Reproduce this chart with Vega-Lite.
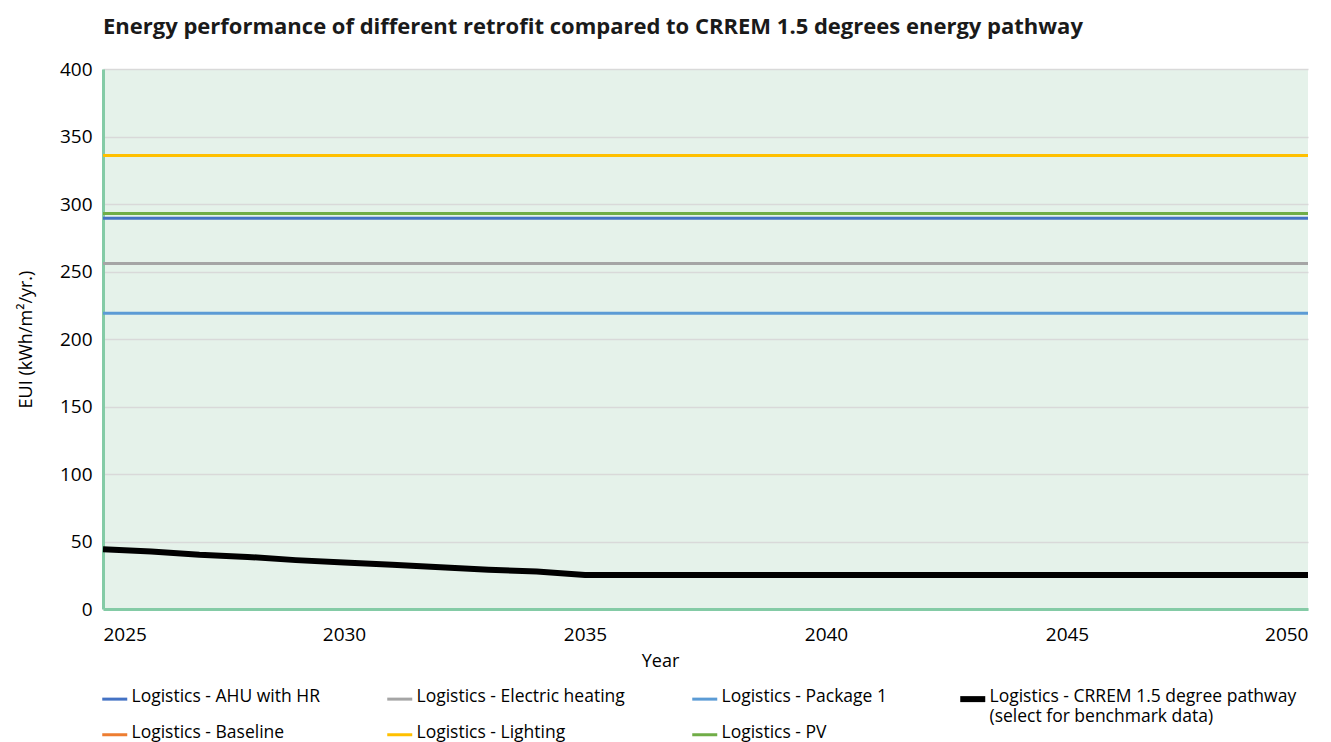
{
  "$schema": "https://vega.github.io/schema/vega-lite/v6.json",
  "width": 1205,
  "height": 540,
  "autosize": {"type": "none"},
  "padding": {"left": 103, "top": 69, "right": 23, "bottom": 133},
  "background": "white",
  "title": {
    "text": "Energy performance of different retrofit compared to CRREM 1.5 degrees energy pathway",
    "anchor": "start",
    "frame": "group",
    "fontSize": 22,
    "font": "Open Sans",
    "fontWeight": "bold",
    "color": "#1a1a1a",
    "offset": 21
  },
  "config": {
    "font": "Open Sans",
    "view": {"fill": "#E5F2EA", "stroke": null}
  },
  "data": {
    "values": [
      {"year": 2025, "series": "Logistics - Lighting", "eui": 336},
      {"year": 2050, "series": "Logistics - Lighting", "eui": 336},
      {"year": 2025, "series": "Logistics - PV", "eui": 293},
      {"year": 2050, "series": "Logistics - PV", "eui": 293},
      {"year": 2025, "series": "Logistics - AHU with HR", "eui": 289.5},
      {"year": 2050, "series": "Logistics - AHU with HR", "eui": 289.5},
      {"year": 2025, "series": "Logistics - Electric heating", "eui": 256},
      {"year": 2050, "series": "Logistics - Electric heating", "eui": 256},
      {"year": 2025, "series": "Logistics - Package 1", "eui": 219},
      {"year": 2050, "series": "Logistics - Package 1", "eui": 219},
      {"year": 2025, "series": "Logistics - CRREM 1.5 degree pathway (select for benchmark data)", "eui": 44.2},
      {"year": 2026, "series": "Logistics - CRREM 1.5 degree pathway (select for benchmark data)", "eui": 42.6},
      {"year": 2027, "series": "Logistics - CRREM 1.5 degree pathway (select for benchmark data)", "eui": 40.2},
      {"year": 2028, "series": "Logistics - CRREM 1.5 degree pathway (select for benchmark data)", "eui": 38.6},
      {"year": 2029, "series": "Logistics - CRREM 1.5 degree pathway (select for benchmark data)", "eui": 36.2},
      {"year": 2030, "series": "Logistics - CRREM 1.5 degree pathway (select for benchmark data)", "eui": 34.4},
      {"year": 2031, "series": "Logistics - CRREM 1.5 degree pathway (select for benchmark data)", "eui": 32.7},
      {"year": 2032, "series": "Logistics - CRREM 1.5 degree pathway (select for benchmark data)", "eui": 30.9},
      {"year": 2033, "series": "Logistics - CRREM 1.5 degree pathway (select for benchmark data)", "eui": 29.1},
      {"year": 2034, "series": "Logistics - CRREM 1.5 degree pathway (select for benchmark data)", "eui": 27.8},
      {"year": 2035, "series": "Logistics - CRREM 1.5 degree pathway (select for benchmark data)", "eui": 25.2},
      {"year": 2036, "series": "Logistics - CRREM 1.5 degree pathway (select for benchmark data)", "eui": 25.2},
      {"year": 2040, "series": "Logistics - CRREM 1.5 degree pathway (select for benchmark data)", "eui": 25.2},
      {"year": 2045, "series": "Logistics - CRREM 1.5 degree pathway (select for benchmark data)", "eui": 25.2},
      {"year": 2050, "series": "Logistics - CRREM 1.5 degree pathway (select for benchmark data)", "eui": 25.2}
    ]
  },
  "mark": {"type": "line", "strokeCap": "butt"},
  "encoding": {
    "x": {
      "field": "year",
      "type": "quantitative",
      "title": "Year",
      "scale": {"domain": [2025, 2050], "nice": false, "zero": false},
      "axis": {
        "values": [2025, 2030, 2035, 2040, 2045, 2050],
        "format": "d",
        "grid": false,
        "ticks": false,
        "domainColor": "#84CBA6",
        "domainWidth": 3,
        "labelFontSize": 19,
        "labelColor": "#000000",
        "labelPadding": 16,
        "labelFont": "Open Sans",
        "titleFont": "Open Sans",
        "titleFontSize": 18,
        "titleFontWeight": "normal",
        "titleColor": "#000000",
        "titlePadding": 8,
        "titleX": 557
      }
    },
    "y": {
      "field": "eui",
      "type": "quantitative",
      "title": "EUI (kWh/m²/yr.)",
      "scale": {"domain": [0, 400], "nice": false},
      "axis": {
        "values": [0, 50, 100, 150, 200, 250, 300, 350, 400],
        "grid": true,
        "gridColor": "#D9D9D9",
        "gridWidth": 1.5,
        "ticks": false,
        "domainColor": "#84CBA6",
        "domainWidth": 3,
        "labelFontSize": 19,
        "labelColor": "#000000",
        "labelPadding": 11,
        "labelFont": "Open Sans",
        "titleFont": "Open Sans",
        "titleFontSize": 18,
        "titleFontWeight": "normal",
        "titleColor": "#000000",
        "titlePadding": 24
      }
    },
    "color": {
      "field": "series",
      "type": "nominal",
      "scale": {
        "domain": [
          "Logistics - AHU with HR",
          "Logistics - Electric heating",
          "Logistics - Package 1",
          "Logistics - CRREM 1.5 degree pathway (select for benchmark data)",
          "Logistics - Baseline",
          "Logistics - Lighting",
          "Logistics - PV"
        ],
        "range": ["#4472C4", "#A5A5A5", "#5B9BD5", "#000000", "#ED7D31", "#FFC000", "#70AD47"]
      },
      "legend": {
        "title": null,
        "orient": "none",
        "legendX": 3,
        "legendY": 621,
        "direction": "horizontal",
        "columns": 4,
        "columnPadding": 61,
        "rowPadding": -4,
        "padding": 0,
        "symbolType": "stroke",
        "symbolSize": 625,
        "symbolStrokeWidth": 3,
        "labelFontSize": 17.5,
        "labelFont": "Open Sans",
        "labelColor": "#000000",
        "labelOffset": 8,
        "labelLimit": 400,
        "labelBaseline": "top",
        "labelExpr": "indexof(datum.label, 'CRREM') >= 0 ? ['Logistics - CRREM 1.5 degree pathway', '(select for benchmark data)'] : [datum.label, '']",
        "encode": {
          "labels": {"update": {"dy": {"value": -11}, "lineHeight": {"value": 20}}},
          "symbols": {"update": {"strokeWidth": {"signal": "datum.value === 'Logistics - CRREM 1.5 degree pathway (select for benchmark data)' ? 6 : 3"}}}
        }
      }
    },
    "strokeWidth": {
      "condition": {"test": "indexof(datum.series, 'CRREM') >= 0", "value": 6},
      "value": 3
    }
  }
}
